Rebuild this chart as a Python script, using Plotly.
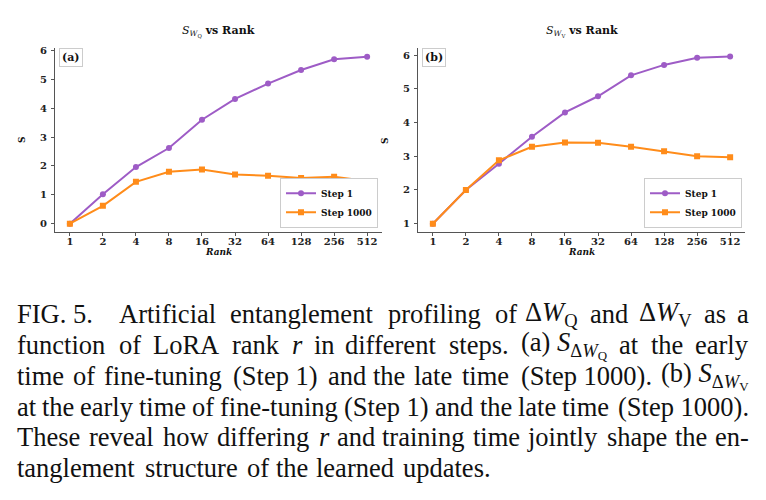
import re
import plotly.graph_objects as go

# ---------------- data ----------------
ranks = ["1", "2", "4", "8", "16", "32", "64", "128", "256", "512"]
q_step1 = [0.0, 1.02, 1.96, 2.62, 3.60, 4.32, 4.85, 5.32, 5.69, 5.78]
q_step1000 = [0.0, 0.62, 1.45, 1.80, 1.88, 1.70, 1.66, 1.58, 1.63, 1.48]
v_step1 = [1.0, 2.0, 2.78, 3.58, 4.30, 4.78, 5.40, 5.71, 5.92, 5.96]
v_step1000 = [1.0, 2.0, 2.88, 3.28, 3.41, 3.40, 3.28, 3.15, 3.00, 2.97]
series_names = ["Step 1", "Step 1000"]
panel_labels = ["(a)", "(b)"]

# caption: one list of word groups per printed line (justified like the reference)
caption_lines = [
    ["FIG. 5.", "Artificial", "entanglement", "profiling", "of", "Δ<i>W</i><sub>Q</sub>", "and",
     "Δ<i>W</i><sub>V</sub>", "as", "a"],
    ["function", "of", "LoRA", "rank", "<i>r</i>", "in", "different", "steps.",
     "(a) <i>S</i><sub>Δ<i>W</i><sub>Q</sub></sub>", "at", "the", "early"],
    ["time", "of", "fine-tuning", "(Step 1)", "and", "the", "late", "time", "(Step 1000).",
     "(b) <i>S</i><sub>Δ<i>W</i><sub>V</sub></sub>"],
    ["at", "the", "early", "time", "of", "fine-tuning", "(Step 1)", "and", "the", "late", "time",
     "(Step 1000)."],
    ["These", "reveal", "how", "differing", "<i>r</i>", "and", "training", "time", "jointly", "shape",
     "the", "en-"],
    ["tanglement", "structure", "of", "the", "learned", "updates."],
]
caption_justified = [True, True, True, True, True, False]

PURPLE = "#9e5cc6"
ORANGE = "#ff8c1a"
W, H = 766, 500
SERIF = "DejaVu Serif"
CAP_FONT = 26.5
WIDTH_SCALE = 1.03

# approximate Times / Liberation Serif advance widths (per 1000 em)
TW = {" ": 250, "!": 333, "(": 333, ")": 333, ",": 250, "-": 333, ".": 250, ":": 278, "Δ": 612}
TW.update({d: 500 for d in "0123456789"})
TW.update(dict(zip("ABCDEFGHIJKLMNOPQRSTUVWXYZ",
                   [722, 667, 667, 722, 611, 556, 722, 722, 333, 389, 722, 611, 889, 722, 722, 556,
                    722, 667, 556, 611, 722, 722, 944, 722, 722, 611])))
TW.update(dict(zip("abcdefghijklmnopqrstuvwxyz",
                   [444, 500, 444, 500, 444, 333, 500, 500, 278, 278, 500, 278, 778, 500, 500, 500,
                    500, 333, 389, 278, 500, 500, 722, 500, 500, 444])))
ITAL = {"W": 833, "S": 500, "r": 389}


def word_width(word, size):
    total = 0.0
    depth = 0
    ital = False
    for tok in re.findall(r"<[^>]+>|[^<]", word):
        if tok == "<sub>":
            depth += 1
        elif tok == "</sub>":
            depth -= 1
        elif tok == "<i>":
            ital = True
        elif tok == "</i>":
            ital = False
        elif not tok.startswith("<"):
            w = ITAL.get(tok, TW.get(tok, 500)) if ital else TW.get(tok, 500)
            total += w * (0.7 ** depth)
    return total / 1000 * size * WIDTH_SCALE


fig = go.Figure()

panels = [
    dict(xa="x", ya="y", s1=q_step1, s2=q_step1000, legend="legend",
         dom=[55 / W, 382 / W], yr=[-0.29, 6.09], sub="Q"),
    dict(xa="x2", ya="y2", s1=v_step1, s2=v_step1000, legend="legend2",
         dom=[418 / W, 745 / W], yr=[0.75, 6.22], sub="V"),
]

ydom = [1 - 230.5 / H, 1 - 45 / H]

for i, p in enumerate(panels):
    fig.add_trace(go.Scatter(
        x=ranks, y=p["s1"], name=series_names[0], mode="lines+markers",
        line=dict(color=PURPLE, width=2), marker=dict(symbol="circle", size=6, color=PURPLE),
        xaxis=p["xa"], yaxis=p["ya"], legend=p["legend"]))
    fig.add_trace(go.Scatter(
        x=ranks, y=p["s2"], name=series_names[1], mode="lines+markers",
        line=dict(color=ORANGE, width=2), marker=dict(symbol="square", size=6, color=ORANGE),
        xaxis=p["xa"], yaxis=p["ya"], legend=p["legend"]))

axis_common = dict(
    showgrid=False, zeroline=False, showline=True, linecolor="#555555", linewidth=1.3,
    ticks="outside", ticklen=3, tickwidth=1, tickcolor="#555555",
    tickfont=dict(family=SERIF, size=10, color="#222222", weight="bold"),
)

layout_axes = {}
for i, p in enumerate(panels):
    sfx = "" if i == 0 else "2"
    layout_axes["xaxis" + sfx] = dict(
        axis_common, type="category", domain=p["dom"], range=[-0.45, 9.45],
        anchor="y" + sfx, categoryorder="array", categoryarray=ranks, ticklabelstandoff=-3)
    layout_axes["yaxis" + sfx] = dict(
        axis_common, domain=ydom, range=p["yr"], anchor="x" + sfx, dtick=1, ticklabelstandoff=2)

fig.update_layout(**layout_axes)

annotations = []
for i, p in enumerate(panels):
    xc = (p["dom"][0] + p["dom"][1]) / 2
    annotations.append(dict(
        x=xc, y=1 - 29 / H, xref="paper", yref="paper", showarrow=False,
        xanchor="center", yanchor="middle",
        text=f"<span style='font-weight:normal;font-style:italic'>S</span><sub><span style='font-weight:normal;font-style:italic'>W</span><sub><span style='font-weight:normal'>{p['sub']}</span></sub></sub> vs Rank",
        font=dict(family=SERIF, size=11, color="#111111", weight="bold")))
    annotations.append(dict(
        x=xc, y=1 - 251 / H, xref="paper", yref="paper", showarrow=False,
        xanchor="center", yanchor="middle",
        text="<i>Rank</i>", font=dict(family=SERIF, size=9, color="#111111", weight="bold")))
    annotations.append(dict(
        x=p["dom"][0] - 33 / W, y=(ydom[0] + ydom[1]) / 2, xref="paper", yref="paper",
        xanchor="center", yanchor="middle",
        showarrow=False, textangle=-90, text="S",
        font=dict(family=SERIF, size=9, color="#111111", weight="bold")))
    annotations.append(dict(
        x=p["dom"][0] + 4 / W, y=1 - 45 / H, xref="paper", yref="paper",
        xanchor="left", yanchor="top", showarrow=False, text=panel_labels[i],
        font=dict(family=SERIF, size=11, color="#111111", weight="bold"),
        bordercolor="#cccccc", borderwidth=1, borderpad=2, bgcolor="white"))

# justified caption, placed word group by word group
X0, X1 = 15, 751
for k, words in enumerate(caption_lines):
    widths = [word_width(w, CAP_FONT) for w in words]
    extra = [0.0] * len(words)
    if k == 0:
        extra[0] = 0.5 * CAP_FONT  # wider space after "FIG. 5."
    if caption_justified[k]:
        gap = (X1 - X0 - sum(widths) - sum(extra)) / (len(words) - 1)
    else:
        gap = 0.25 * CAP_FONT
    yk = 1 - (313 + 31 * k) / H
    n = len(words)
    lefts = []
    x = X0
    for j in range(n):
        lefts.append(x)
        x += widths[j] + gap + extra[j]
    for j, w in enumerate(words):
        right_half = caption_justified[k] and j >= n // 2
        if right_half:
            xr = X1 - sum(widths[j + 1:]) - gap * (n - 1 - j)
            xpos, anc = xr, "right"
        else:
            xpos, anc = lefts[j], "left"
        annotations.append(dict(
            x=xpos / W, y=yk, xref="paper", yref="paper", align="left",
            xanchor=anc, yanchor="middle", showarrow=False, text=w,
            font=dict(family="Liberation Serif", size=CAP_FONT, color="#111111")))

legend_common = dict(
    font=dict(family=SERIF, size=9, color="#111111", weight="bold"),
    bgcolor="white", bordercolor="#cccccc", borderwidth=1,
    xanchor="right", yanchor="bottom", itemwidth=30, tracegroupgap=0,
)

fig.update_layout(
    width=W, height=H, autosize=False,
    margin=dict(l=0, r=0, t=0, b=0),
    paper_bgcolor="white", plot_bgcolor="white",
    annotations=annotations,
    legend=dict(legend_common, x=378 / W, y=1 - 226 / H),
    legend2=dict(legend_common, x=742 / W, y=1 - 226 / H),
)

fig.write_html("out.html")
